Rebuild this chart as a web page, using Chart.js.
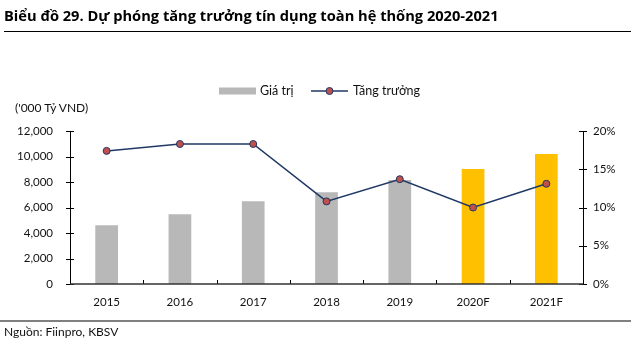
<!DOCTYPE html>
<html>
<head>
<meta charset="utf-8">
<script src="https://cdn.jsdelivr.net/npm/chart.js@4.4.1/dist/chart.umd.min.js"></script>
<style>
  html, body { margin: 0; padding: 0; background: #fff; }
  body { width: 640px; height: 349px; position: relative; overflow: hidden; font-family: Lato, "Open Sans", sans-serif; color: #111; }
  #wrap { position: absolute; left: 0; top: 0; width: 640px; height: 349px; }
  .abs { position: absolute; white-space: nowrap; line-height: 1; }
  #title { left: 4px; top: 8px; font-family: "Open Sans", sans-serif; font-size: 14px; font-weight: bold; color: #000; }
  #titleLine { left: 4px; top: 31px; width: 627px; height: 0; border-top: 1.5px solid #000; }
  #srcLine { left: 0px; top: 320px; width: 631px; height: 0; border-top: 2px solid #808080; }
  #source { left: 4px; top: 326px; font-size: 12px; color: #111; }
  #unit { left: 15px; top: 102px; font-size: 12px; color: #111; }
</style>
</head>
<body>
<div id="wrap"><canvas id="c" width="640" height="349"></canvas></div>
<div id="title" class="abs">Biểu đồ 29. Dự phóng tăng trưởng tín dụng toàn hệ thống 2020-2021</div>
<div id="titleLine" class="abs"></div>
<div id="unit" class="abs">('000 Tỷ VND)</div>
<div id="srcLine" class="abs"></div>
<div id="source" class="abs">Nguồn: Fiinpro, KBSV</div>
<script>
// ---- data ----
const categories = ['2015', '2016', '2017', '2018', '2019', '2020F', '2021F'];
const creditValues = [4600, 5470, 6490, 7200, 8160, 9020, 10200];   // '000 tỷ VND
const growthPct = [17.4, 18.3, 18.3, 10.8, 13.7, 10.0, 13.1];       // %
const leftTicks = [0, 2000, 4000, 6000, 8000, 10000, 12000];
const rightTicks = [0, 5, 10, 15, 20];
const seriesNames = ['Giá trị', 'Tăng trưởng'];

// ---- styles ----
const GREY = '#B8B8B8';
const GOLD = '#FFC000';
const NAVY = '#1F3864';
const RED = '#C0504D';
const FONT = { family: 'Lato, "Open Sans", sans-serif', size: 11.5 };

// fit title width to the reference span
(function fitTitle() {
  const t = document.getElementById('title');
  const target = 495;
  const w = t.getBoundingClientRect().width;
  if (w > 0) t.style.fontSize = (14 * target / w).toFixed(2) + 'px';
})();

const axesPlugin = {
  id: 'axesPlugin',
  afterDatasetsDraw(chart) {
    const ctx = chart.ctx;
    const a = chart.chartArea;
    const x = chart.scales.x, y = chart.scales.y, y1 = chart.scales.y1;
    ctx.save();
    ctx.strokeStyle = '#000';
    ctx.lineWidth = 1;
    ctx.beginPath();
    ctx.moveTo(Math.round(a.left) + 0.5, a.top);
    ctx.lineTo(Math.round(a.left) + 0.5, a.bottom);
    ctx.moveTo(Math.round(a.right) + 0.5, a.top);
    ctx.lineTo(Math.round(a.right) + 0.5, a.bottom);
    ctx.stroke();
    ctx.beginPath();
    leftTicks.forEach(v => {
      const py = Math.round(y.getPixelForValue(v)) + 0.5;
      ctx.moveTo(a.left - 4, py); ctx.lineTo(a.left + 4, py);
    });
    rightTicks.forEach(v => {
      const py = Math.round(y1.getPixelForValue(v)) + 0.5;
      ctx.moveTo(a.right - 4, py); ctx.lineTo(a.right + 4, py);
    });
    for (let i = 0; i < categories.length - 1; i++) {
      const px = Math.round((x.getPixelForValue(i) + x.getPixelForValue(i + 1)) / 2) + 0.5;
      ctx.moveTo(px, a.bottom); ctx.lineTo(px, a.bottom - 4);
    }
    ctx.stroke();
    ctx.strokeStyle = '#333';
    ctx.lineWidth = 1.5;
    ctx.beginPath();
    ctx.moveTo(a.left, a.bottom); ctx.lineTo(a.right, a.bottom);
    ctx.stroke();
    ctx.restore();
  }
};

const legendPlugin = {
  id: 'legendPlugin',
  afterDraw(chart) {
    const ctx = chart.ctx;
    ctx.save();
    const cy = 91;
    ctx.fillStyle = GREY;
    ctx.fillRect(219, cy - 3.5, 37, 7);
    ctx.font = '12.5px Lato, "Open Sans", sans-serif';
    ctx.fillStyle = '#111';
    ctx.textBaseline = 'middle';
    ctx.fillText(seriesNames[0], 260, cy);
    ctx.strokeStyle = NAVY;
    ctx.lineWidth = 1.5;
    ctx.beginPath();
    ctx.moveTo(311, cy); ctx.lineTo(348, cy);
    ctx.stroke();
    ctx.beginPath();
    ctx.arc(329.5, cy, 3.5, 0, Math.PI * 2);
    ctx.fillStyle = RED; ctx.fill();
    ctx.lineWidth = 1; ctx.strokeStyle = NAVY; ctx.stroke();
    ctx.fillStyle = '#111';
    ctx.fillText(seriesNames[1], 353, cy);
    ctx.restore();
  }
};

new Chart(document.getElementById('c'), {
  data: {
    labels: categories,
    datasets: [
      {
        type: 'line',
        label: seriesNames[1],
        data: growthPct,
        yAxisID: 'y1',
        borderColor: NAVY,
        borderWidth: 1.5,
        pointRadius: 3.5,
        pointBackgroundColor: RED,
        pointBorderColor: NAVY,
        pointBorderWidth: 1,
        tension: 0,
        order: 0
      },
      {
        type: 'bar',
        label: seriesNames[0],
        data: creditValues,
        yAxisID: 'y',
        backgroundColor: ctx => categories[ctx.dataIndex].endsWith('F') ? GOLD : GREY,
        borderWidth: 0,
        categoryPercentage: 1,
        barPercentage: 0.31,
        order: 1
      }
    ]
  },
  options: {
    responsive: false,
    animation: false,
    devicePixelRatio: 1,
    layout: { padding: { top: 131, left: 0, right: 0, bottom: 0 } },
    plugins: { legend: { display: false }, tooltip: { enabled: false }, title: { display: false } },
    scales: {
      x: {
        offset: true,
        grid: { display: false, drawTicks: false },
        border: { display: false },
        ticks: { color: '#111', font: FONT, padding: 11, maxRotation: 0 },
        afterFit: s => { s.height = 65; }
      },
      y: {
        position: 'left',
        min: 0, max: 12000,
        afterBuildTicks: s => { s.ticks = leftTicks.map(v => ({ value: v })); },
        grid: { display: false, drawTicks: false },
        border: { display: false },
        ticks: { color: '#111', font: FONT, padding: 17, callback: v => v.toLocaleString('en-US') },
        afterFit: s => { s.width = 70; }
      },
      y1: {
        position: 'right',
        min: 0, max: 20,
        afterBuildTicks: s => { s.ticks = rightTicks.map(v => ({ value: v })); },
        grid: { display: false, drawTicks: false },
        border: { display: false },
        ticks: { color: '#111', font: FONT, padding: 10, callback: v => v + '%' },
        afterFit: s => { s.width = 57; }
      }
    }
  },
  plugins: [axesPlugin, legendPlugin]
});
</script>
</body>
</html>
